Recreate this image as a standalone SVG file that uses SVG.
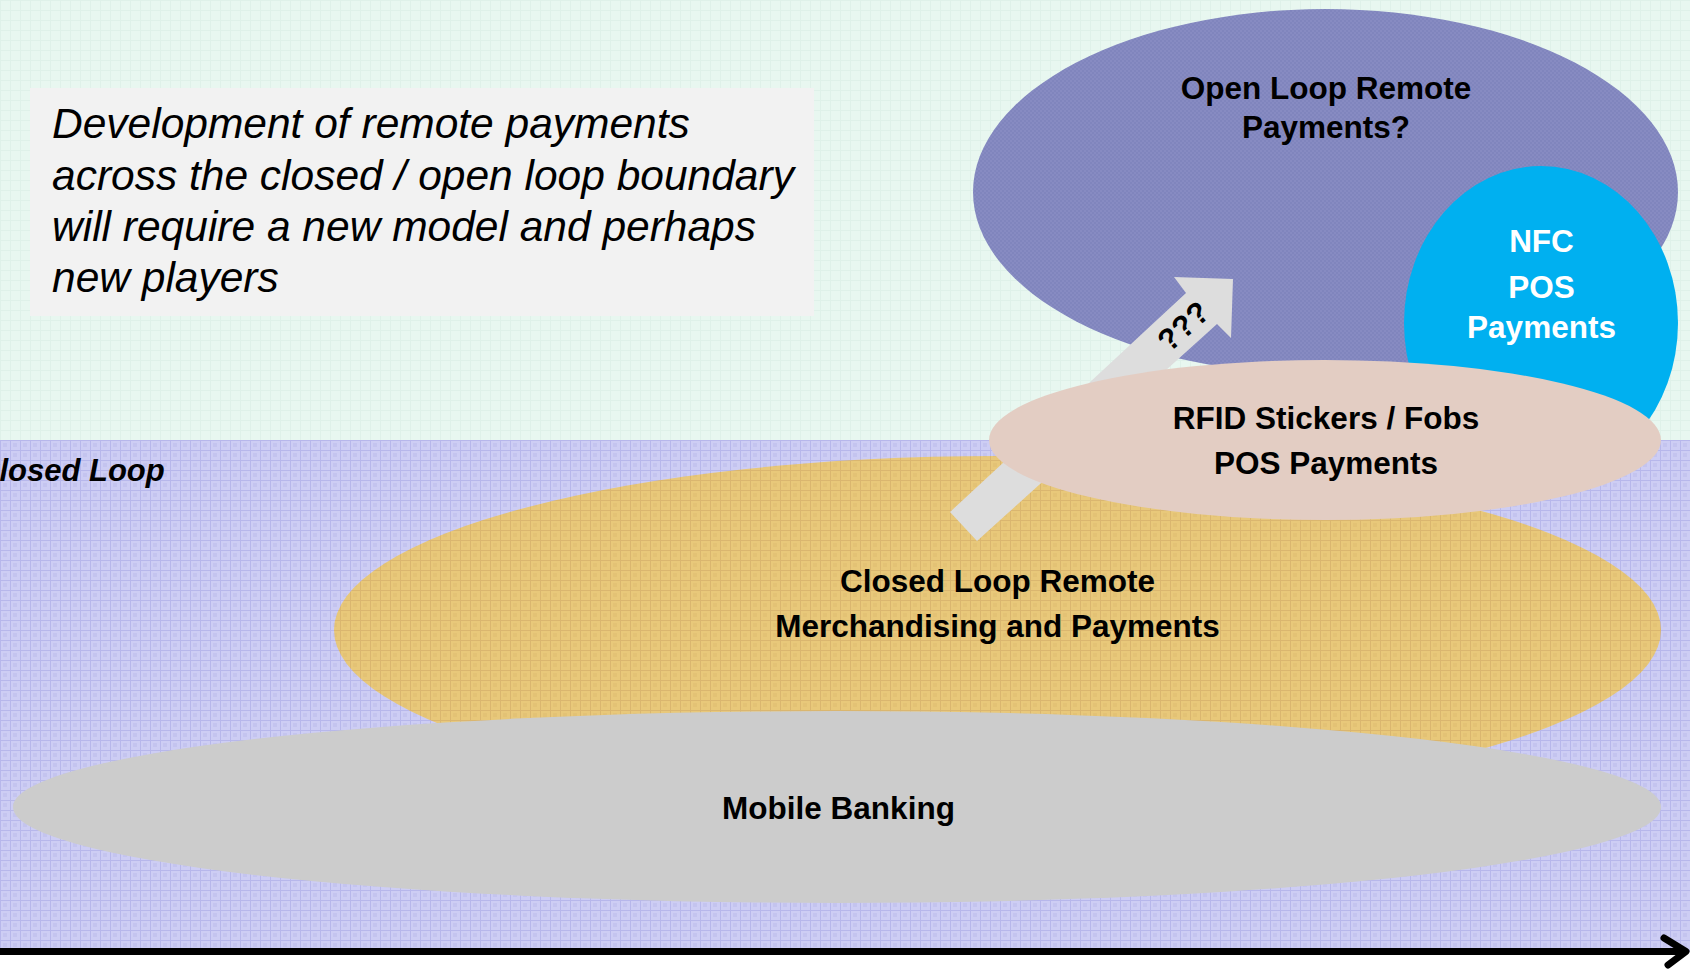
<svg xmlns="http://www.w3.org/2000/svg" width="1690" height="971" viewBox="0 0 1690 971">
<style>
.lbl{font-family:"Liberation Sans",Arial,sans-serif;font-weight:bold;font-size:31.5px;fill:#000;text-anchor:middle}
.wht{fill:#fff}
.note{font-family:"Liberation Sans",Arial,sans-serif;font-style:italic;font-size:42.5px;fill:#000}
</style>
<defs>
<pattern id="pMint" width="10" height="10" patternUnits="userSpaceOnUse"><rect width="10" height="10" fill="#e8f7f0"/><path d="M0 0.5H10M0.5 0V10" stroke="#dff1e9" stroke-width="1"/></pattern>
<pattern id="pBand" width="10" height="10" patternUnits="userSpaceOnUse"><rect width="10" height="10" fill="#cdcdf4"/><rect x="3" y="3" width="4" height="4" fill="#c4c4ef"/><path d="M0 0.5H10M0.5 0V10" stroke="#b7b7eb" stroke-width="1"/></pattern>
<pattern id="pGold" width="10" height="10" patternUnits="userSpaceOnUse"><rect width="10" height="10" fill="#e8c87a"/><rect x="3" y="3" width="4" height="4" fill="#e3c275"/><path d="M0 0.5H10M0.5 0V10" stroke="#dab66f" stroke-width="1"/></pattern>
<pattern id="pPurple" width="4" height="4" patternUnits="userSpaceOnUse"><rect width="4" height="4" fill="#878bc2"/><rect width="2" height="2" fill="#8085bd"/><rect x="2" y="2" width="2" height="2" fill="#8085bd"/></pattern>
</defs>
<g id="background">
<rect x="0" y="0" width="1690" height="971" fill="#ffffff"/>
<rect x="0" y="0" width="1690" height="440" fill="url(#pMint)"/>
<rect x="0" y="440" width="1690" height="512" fill="url(#pBand)"/>
<text x="-23" y="481" font-family="Liberation Sans, Arial, sans-serif" font-weight="bold" font-style="italic" font-size="31" fill="#000">Closed Loop</text>
</g>
<g id="note">
<rect x="30" y="88" width="784" height="228" fill="#f2f2f2"/>
<text class="note" x="52" y="138">Development of remote payments</text>
<text class="note" x="52" y="189.5">across the closed / open loop boundary</text>
<text class="note" x="52" y="241">will require a new model and perhaps</text>
<text class="note" x="52" y="292">new players</text>
</g>
<g id="open-loop">
<ellipse cx="1325.5" cy="192" rx="352.5" ry="183" fill="url(#pPurple)"/>
<text class="lbl" x="1326" y="99">Open Loop Remote</text>
<text class="lbl" x="1326" y="138">Payments?</text>
</g>
<g id="nfc">
<ellipse cx="1541" cy="323" rx="137" ry="157" fill="#00b0f0"/>
<text class="lbl wht" x="1541.5" y="252">NFC</text>
<text class="lbl wht" x="1541.5" y="298">POS</text>
<text class="lbl wht" x="1541.5" y="338">Payments</text>
</g>
<g id="closed-loop-remote">
<ellipse cx="997.5" cy="630" rx="663.5" ry="174" fill="url(#pGold)"/>
<text class="lbl" x="997.5" y="592">Closed Loop Remote</text>
<text class="lbl" x="997.5" y="637">Merchandising and Payments</text>
</g>
<g id="mobile-banking">
<ellipse cx="837" cy="807" rx="824" ry="96" fill="#cccccc"/>
<text class="lbl" x="838.5" y="819">Mobile Banking</text>
</g>
<g id="connectors">
<polygon points="950,512 1186,293 1174,277 1233,279 1231,338 1217,324 977,541" fill="#dddddd"/>
<text transform="translate(1183,326) rotate(-42)" x="0" y="11" text-anchor="middle" font-family="Liberation Sans, Arial, sans-serif" font-weight="bold" font-size="31" fill="#000">???</text>
<line x1="0" y1="951.5" x2="1684" y2="951.5" stroke="#000" stroke-width="7"/>
<path d="M1664 938 L1686 951.5 L1668 965" fill="none" stroke="#000" stroke-width="7" stroke-linecap="round" stroke-linejoin="round"/>
</g>
<g id="rfid">
<ellipse cx="1325" cy="440" rx="336" ry="80" fill="#e3cdc3"/>
<text class="lbl" x="1326" y="429">RFID Stickers / Fobs</text>
<text class="lbl" x="1326" y="474">POS Payments</text>
</g>
</svg>
